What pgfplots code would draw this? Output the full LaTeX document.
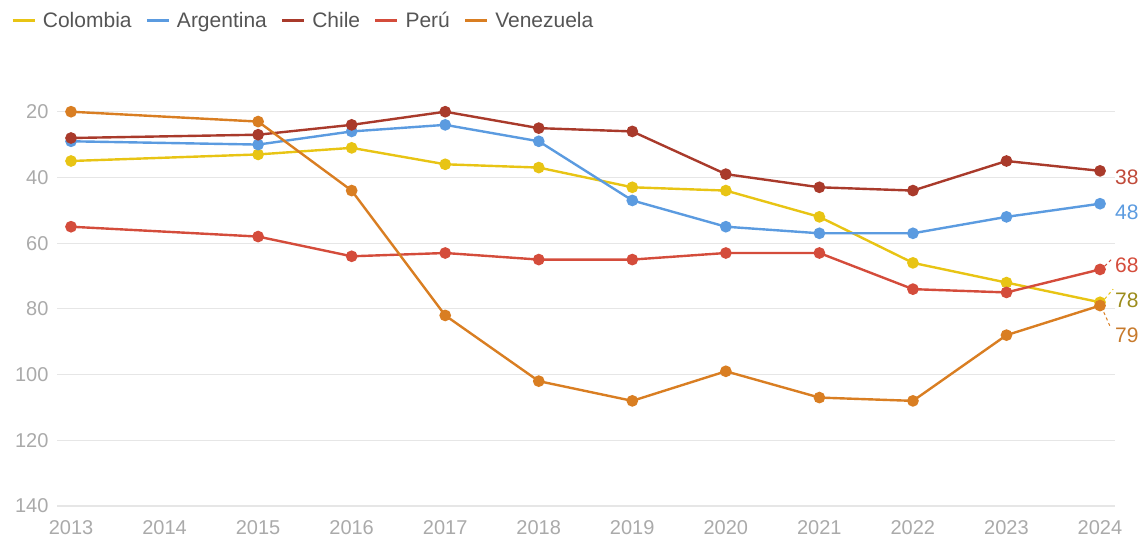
\documentclass[border=0pt]{standalone}
\usepackage{pgfplots}
\pgfplotsset{compat=1.18}
\usepackage{fontspec}
\setmainfont{Liberation Sans}
\definecolor{colyel}{HTML}{E8C414}
\definecolor{colblu}{HTML}{5B9BE0}
\definecolor{colchi}{HTML}{A93A2B}
\definecolor{colper}{HTML}{D44C3B}
\definecolor{colven}{HTML}{D97E22}
\definecolor{lab38}{HTML}{C04A3A}
\definecolor{lab78}{HTML}{9C8C1C}
\definecolor{lab79}{HTML}{C77A2C}
\definecolor{tickgray}{HTML}{AAAAAA}
\definecolor{leggray}{HTML}{555555}
\definecolor{gridgray}{HTML}{E6E6E6}
\begin{document}
\begin{tikzpicture}
\begin{axis}[
  at={(0,0)}, anchor=south west,
  scale only axis, width=1058bp, height=460bp,
  xmin=2012.85, xmax=2024.16,
  ymin=0, ymax=140, y dir=reverse,
  xtick={2013,...,2024}, ytick={20,40,...,140},
  /pgf/number format/assume math mode=true,
  x tick label style={/pgf/number format/1000 sep={}},
  ticklabel style={font=\fontsize{20bp}{22bp}\selectfont, text=tickgray},
  xticklabel style={yshift=-11bp},
  yticklabel style={xshift=-5bp},
  major tick length=0pt,
  axis line style={draw=none},
  ymajorgrids, grid style={gridgray, line width=1.2bp},
  every axis plot/.append style={line width=2.4bp, mark=*, mark size=4.6bp},
  legend columns=-1,
  legend style={at={(-0.046,1.083)}, anchor=north west, draw=none, fill=none,
    font=\fontsize{21bp}{24bp}\selectfont, text=leggray,
    /tikz/every even column/.append style={column sep=12bp}},
  legend image code/.code={\draw[#1, mark=none, line width=2.4bp] (0bp,0bp) -- (22bp,0bp); \path (27bp,0bp);},
  clip=false,
]
\addplot[colyel] coordinates {(2013,35) (2015,33) (2016,31) (2017,36) (2018,37) (2019,43) (2020,44) (2021,52) (2022,66) (2023,72) (2024,78)};
\addlegendentry{Colombia}
\addplot[colblu] coordinates {(2013,29) (2015,30) (2016,26) (2017,24) (2018,29) (2019,47) (2020,55) (2021,57) (2022,57) (2023,52) (2024,48)};
\addlegendentry{Argentina}
\addplot[colchi] coordinates {(2013,28) (2015,27) (2016,24) (2017,20) (2018,25) (2019,26) (2020,39) (2021,43) (2022,44) (2023,35) (2024,38)};
\addlegendentry{Chile}
\addplot[colper] coordinates {(2013,55) (2015,58) (2016,64) (2017,63) (2018,65) (2019,65) (2020,63) (2021,63) (2022,74) (2023,75) (2024,68)};
\addlegendentry{Perú}
\addplot[colven] coordinates {(2013,20) (2015,23) (2016,44) (2017,82) (2018,102) (2019,108) (2020,99) (2021,107) (2022,108) (2023,88) (2024,79)};
\addlegendentry{Venezuela}
% end labels
\draw[colper, dashed, line width=1bp] (axis cs:2024.05,67) -- (axis cs:2024.12,65);
\draw[colyel, dashed, line width=1bp] (axis cs:2024.05,77) -- (axis cs:2024.14,74);
\draw[colven, dashed, line width=1bp] (axis cs:2024.04,81) -- (axis cs:2024.11,85.5);
\begin{scope}[every node/.style={anchor=west, inner sep=0pt, xshift=15bp, font=\fontsize{21bp}{23bp}\selectfont}]
\node[text=lab38] at (axis cs:2024,40.1) {38};
\node[text=colblu] at (axis cs:2024,50.7) {48};
\node[text=colper] at (axis cs:2024,66.8) {68};
\node[text=lab78] at (axis cs:2024,77.5) {78};
\node[text=lab79] at (axis cs:2024,88.1) {79};
\end{scope}
\end{axis}
\pgfresetboundingbox
\path[use as bounding box] (-57bp,-35bp) rectangle (1090bp,506bp);
\end{tikzpicture}
\end{document}
